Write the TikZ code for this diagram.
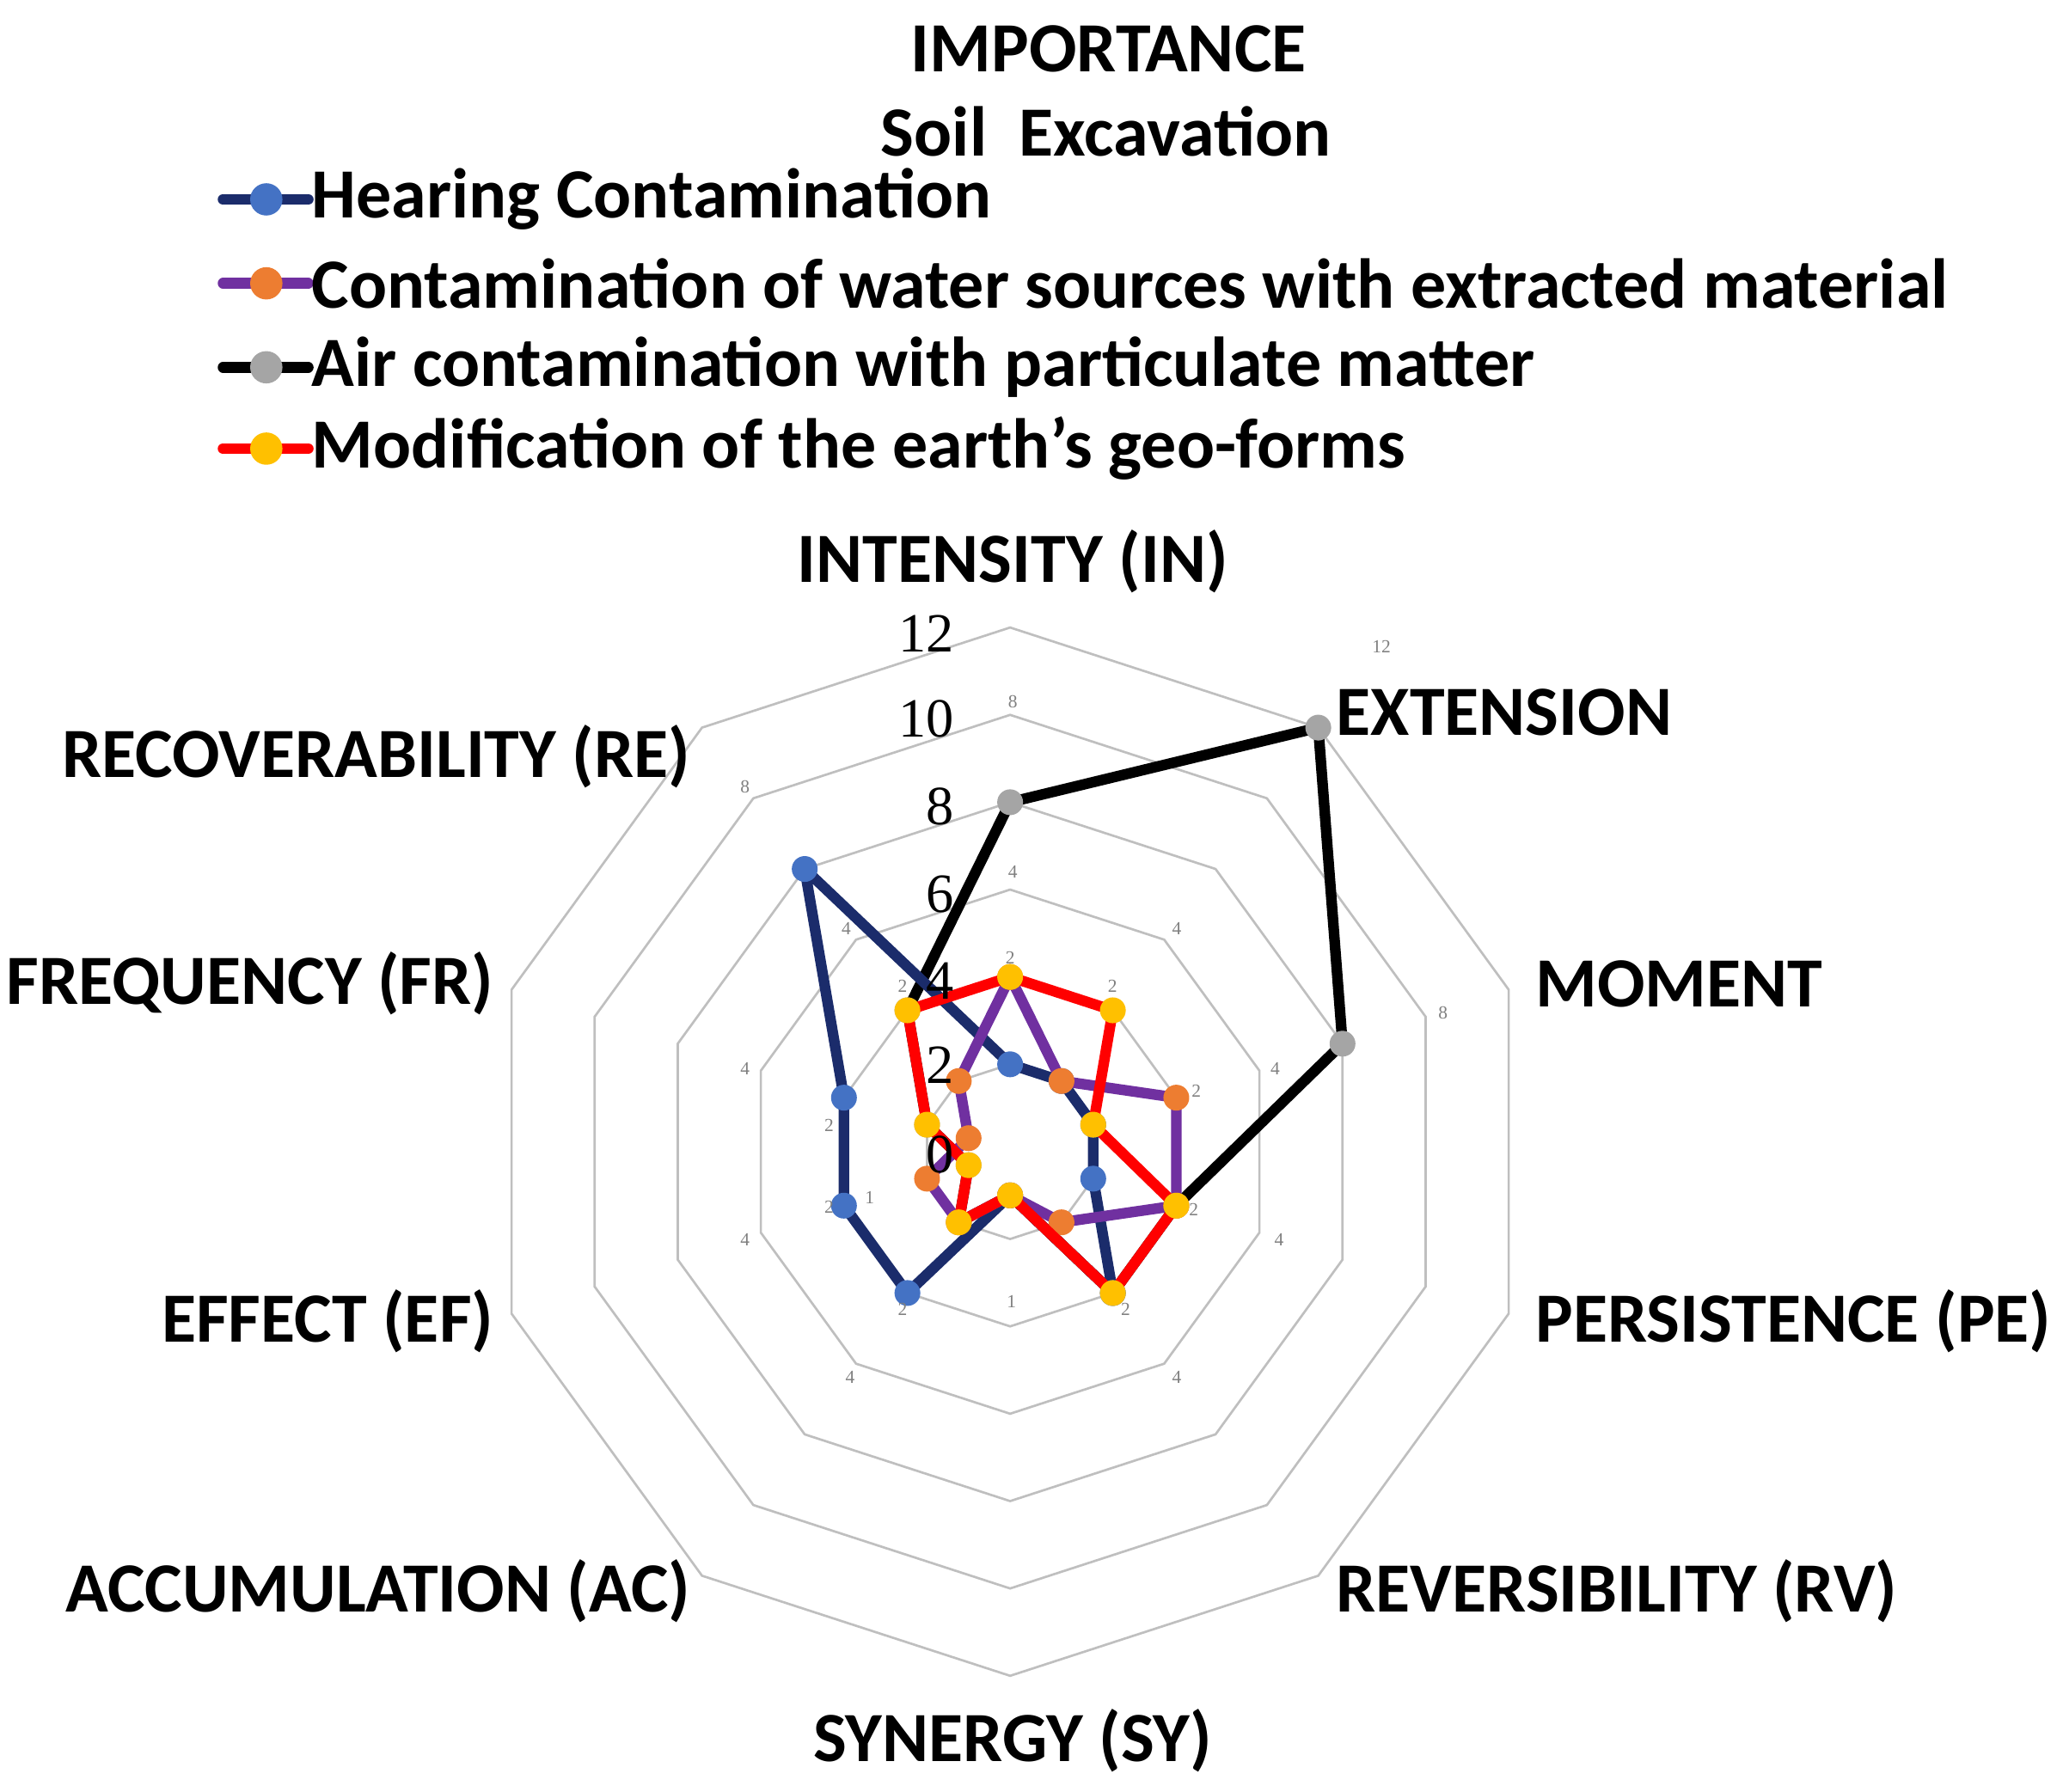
\documentclass[tikz,border=0pt]{standalone}
\usepackage{fontspec}
\setmainfont{Carlito}
\newfontfamily\serifnum{Liberation Serif}
\definecolor{navy}{HTML}{1B2C6B}
\definecolor{bdot}{HTML}{4472C4}
\definecolor{purp}{HTML}{7030A0}
\definecolor{odot}{HTML}{ED7D31}
\definecolor{gdot}{HTML}{A5A5A5}
\definecolor{ydot}{HTML}{FFC000}
\definecolor{grid}{HTML}{BFBFBF}
\tikzset{
 lbl/.style={font=\bfseries\fontsize{15.3}{17}\selectfont, inner sep=0pt},
 tick/.style={font=\serifnum\fontsize{12}{14}\selectfont, inner sep=0pt},
 dl/.style={font=\serifnum\fontsize{4}{5}\selectfont, text=gray, inner sep=0pt},
 ser/.style={line width=2.3pt, line join=round},
 dot/.style={circle, fill=#1, inner sep=0pt, minimum size=5.6pt}
}
\newcommand\series[4]{% name, values, line, dot
 \foreach \v [count=\k from 0] in {#2} {\coordinate (#1-\k) at ({90-36*\k}:{\v*33.3});}
 \draw[ser,#3] (#1-0)--(#1-1)--(#1-2)--(#1-3)--(#1-4)--(#1-5)--(#1-6)--(#1-7)--(#1-8)--(#1-9)--cycle;
 \foreach \k in {0,...,9} {\node[dot=#4] (#1d\k) at (#1-\k) {};}
}
\begin{document}
\begin{tikzpicture}[x=0.01cm,y=-0.01cm]
\useasboundingbox (0,0) rectangle (1568,1366);
\node[lbl] (t1) at (845,37) {IMPORTANCE};
\node[lbl] (t2) at (843,100) {Soil\ \ Excavation};
% legend
\foreach \y/\lc/\dc/\t [count=\i] in {152/navy/bdot/Hearing Contamination,
 216/purp/odot/Contamination of water sources with extracted material,
 280/black/gdot/Air contamination with particulate matter,
 342/red/ydot/Modification of the earth{\char"27}s geo-forms} {
 \coordinate (la\i) at (170,\y); \coordinate (lb\i) at (235,\y);
 \draw[ser,\lc,line cap=round] (la\i)--(lb\i);
 \node[dot=\dc,minimum size=7pt] (ld\i) at (203,\y) {};
 \node[lbl,anchor=west] (lt\i) at (237,\y) {\t};
}
\begin{scope}[shift={(770,878)},x=0.01cm,y=0.01cm]
\foreach \r in {1,...,6} {
 \draw[grid,line width=0.5pt] (90:\r*66.6) \foreach \k in {1,...,9} {-- ({90-36*\k}:\r*66.6)} -- cycle;
}
\series{k}{8,12,8,4,4,1,2,1,2,4}{black}{gdot}
\series{b}{2,2,2,2,4,1,4,4,4,8}{navy}{bdot}
\series{p}{4,2,4,4,2,1,2,2,1,2}{purp}{odot}
\series{r}{4,4,2,4,4,1,2,1,2,4}{red}{ydot}
\end{scope}
% tick labels
\foreach \y/\t in {483/12,548/10} \node[tick,anchor=east] (tk\t) at (728,\y) {\t};
\foreach \y/\t in {615/8,682/6,748/4,812/2,880/0} \node[tick,anchor=east] (tk\t) at (728,\y) {\t};
% data labels
\foreach \x/\y/\t [count=\i] in {1053/493/12,772/535/8,568/600/8,1100/772/8,772/665/4,897/708/4,972/815/4,975/945/4,897/1050/4,648/1050/4,568/945/4,568/815/4,645/708/4,
 770/730/2,848/752/2,912/832/2,910/922/2,858/998/2,688/998/2,632/920/2,632/858/2,688/752/2,771/992/1,663/913/1} \node[dl] (dl\i) at (\x,\y) {\t};
% axis labels
\node[lbl] (aIN) at (772,428) {INTENSITY (IN)};
\node[lbl,anchor=west] (aEX) at (1018,543) {EXTENSION};
\node[lbl,anchor=west] (aMO) at (1170,750) {MOMENT};
\node[lbl,anchor=west] (aPE) at (1170,1007) {PERSISTENCE (PE)};
\node[lbl,anchor=west] (aRV) at (1018,1213) {REVERSIBILITY (RV)};
\node[lbl] (aSY) at (772,1327) {SYNERGY (SY)};
\node[lbl,anchor=east] (aAC) at (527,1213) {ACCUMULATION (AC)};
\node[lbl,anchor=east] (aEF) at (377,1007) {EFFECT (EF)};
\node[lbl,anchor=east] (aFR) at (377,750) {FREQUENCY (FR)};
\node[lbl,anchor=east] (aRE) at (527,577) {RECOVERABILITY (RE)};
\end{tikzpicture}
\end{document}
